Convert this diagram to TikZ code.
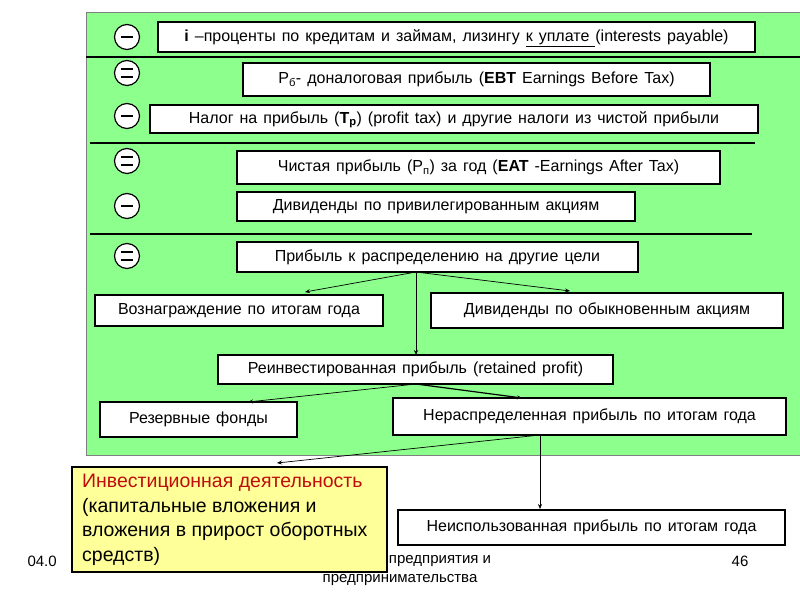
\documentclass[tikz,border=0pt]{standalone}
\usepackage{fontspec}
\setmainfont{Liberation Sans}
\usetikzlibrary{arrows.meta}
\newcommand\mywsp{\spaceskip=6pt plus 3pt minus 2pt\relax}
\begin{document}
\begin{tikzpicture}[x=1pt,y=-1pt,
 bx/.style={draw,fill=white,line width=1.2pt,font=\fontsize{16}{18}\selectfont\mywsp,inner sep=0pt,text height=11pt,text depth=3pt},
 circ/.style={draw,fill=white,circle,minimum size=25pt,inner sep=0pt,line width=1.2pt},
 ar/.style={-{Stealth[length=5pt,width=4pt]},line width=0.7pt},
 ft/.style={font=\fontsize{15}{17}\selectfont}]
\useasboundingbox (0,0) rectangle (800,600);
\fill[white] (0,0) rectangle (800,600);
\fill[draw=gray,line width=0.8pt,fill={rgb,255:red,140;green,255;blue,140}] (86,12) rectangle (802,455);
\draw[line width=1.2pt] (86,57) -- (800,57);
\draw[line width=1.2pt] (90,143) -- (755,143);
\draw[line width=1.2pt] (90,234) -- (752,234);
\foreach \n/\y/\t in {c1/37/1,c2/73/2,c3/116/1,c4/161/2,c5/206/1,c6/256/2}{
 \node[circ] (\n) at (127,\y) {};
 \ifnum\t=1 \draw[line width=1.3pt] (121,\y) -- (133,\y);
 \else \draw[line width=1.3pt] (121,\y-4) -- (133,\y-4) (121,\y+4) -- (133,\y+4); \fi
}
\node[bx,minimum width=597pt,minimum height=30pt] (b1) at (456.5,37) {\textbf{i} –проценты по кредитам и займам, лизингу \underline{к уплате }(interests payable)};
\node[bx,minimum width=467pt,minimum height=33pt] (b2) at (476.5,79.5) {P\textsubscript{б}- доналоговая прибыль (\textbf{EBT} Earnings Before Tax)};
\node[bx,minimum width=608pt,minimum height=28pt] (b3) at (454,119) {Налог на прибыль (\textbf{T\textsubscript{p}}) (profit tax) и другие налоги из чистой прибыли};
\node[bx,minimum width=483pt,minimum height=33pt] (b4) at (478.5,167.5) {Чистая прибыль (P\textsubscript{п}) за год (\textbf{EAT} -Earnings After Tax)};
\node[bx,minimum width=398pt,minimum height=29pt] (b5) at (436,206.5) {Дивиденды по привилегированным акциям};
\node[bx,minimum width=401pt,minimum height=30pt] (b6) at (437.5,257) {Прибыль к распределению на другие цели};
\node[bx,minimum width=288pt,minimum height=31pt] (b7) at (239,310.5) {Вознаграждение по итогам года};
\node[bx,minimum width=352pt,minimum height=35pt] (b8) at (607,310.5) {Дивиденды по обыкновенным акциям};
\node[bx,minimum width=395pt,minimum height=29pt] (b9) at (415.5,369.5) {Реинвестированная прибыль (retained profit)};
\node[bx,minimum width=197pt,minimum height=35pt] (b10) at (198.5,419.5) {Резервные фонды};
\node[bx,minimum width=393pt,minimum height=37pt] (b11) at (589.5,416.5) {Нераспределенная прибыль по итогам года};
\node[bx,minimum width=387pt,minimum height=35pt] (b13) at (591.5,527.5) {Неиспользованная прибыль по итогам года};
\node[ft,anchor=west] (f1) at (24,561) {04.0};
\node[ft] (f2) at (440,561) {предприятия и};
\node[ft] (f3) at (400,580) {предпринимательства};
\node[ft] (f4) at (740,561) {46};
\coordinate (s6) at (416,272);
\draw[ar] (s6) -- (305,292);
\draw[ar] (s6) -- (570,291);
\draw[ar] (s6) -- (416,355);
\coordinate (s9) at (416,384);
\draw[ar] (s9) -- (248,402);
\draw[ar,line width=1.2pt] (s9) -- (522,398);
\coordinate (s11) at (540,435);
\coordinate (t12) at (277,463);
\draw[ar] (s11) -- (t12);
\draw[ar] (s11) -- (540,509);
\node[draw,line width=2pt,fill={rgb,255:red,255;green,255;blue,153},minimum width=315pt,minimum height=105pt,inner sep=0pt] (b12) at (229.5,519.5) {};
\node[anchor=north west,align=left,font=\fontsize{19.5}{24.5}\selectfont,inner sep=0pt] (t) at (82,474) {\textcolor[rgb]{0.75,0.05,0.05}{Инвестиционная деятельность}\\(капитальные вложения и\\вложения в прирост оборотных\\средств)};
\end{tikzpicture}
\end{document}
